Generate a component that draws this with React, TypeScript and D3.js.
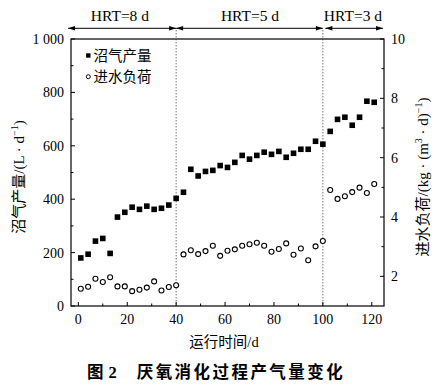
import React from 'react';
import * as d3 from 'd3';

const days = [1, 4, 7, 10, 13, 16, 19, 22, 25, 28, 31, 34, 37, 40, 43, 46, 49, 52, 55, 58, 61, 64, 67, 70, 73, 76, 79, 82, 85, 88, 91, 94, 97, 100, 103, 106, 109, 112, 115, 118, 121];
const biogas = [180, 194, 243, 253, 197, 333, 351, 370, 362, 374, 362, 366, 378, 403, 426, 512, 487, 504, 508, 526, 519, 538, 564, 550, 564, 576, 568, 579, 557, 572, 587, 587, 617, 606, 654, 699, 707, 677, 707, 767, 763];
const loading = [1.58, 1.65, 1.92, 1.81, 1.97, 1.66, 1.66, 1.50, 1.55, 1.62, 1.83, 1.52, 1.64, 1.70, 2.74, 2.88, 2.75, 2.85, 3.03, 2.69, 2.86, 2.91, 3.03, 3.08, 3.13, 3.03, 2.83, 2.92, 3.11, 2.73, 2.94, 2.54, 3.01, 3.19, 4.91, 4.61, 4.70, 4.84, 4.99, 4.81, 5.11];

const xTicks = [0, 20, 40, 60, 80, 100, 120];
const xMinor = [10, 30, 50, 70, 90, 110];
const leftTicks = [0, 200, 400, 600, 800, 1000];
const leftTickLabels = ['0', '200', '400', '600', '800', '1 000'];
const leftMinor = [100, 300, 500, 700, 900];
const rightTicks = [2, 4, 6, 8, 10];
const rightMinor = [3, 5, 7, 9];
const phaseBounds = [-4.2, 40, 100, 124.6];
const phaseLabels = ['HRT=8 d', 'HRT=5 d', 'HRT=3 d'];
const phaseLabelAt = [17, 70.2, 112.3];
const dividers = [40, 100];

const serif = '"Liberation Serif", "Times New Roman", "Noto Sans CJK SC", serif';

export default function App() {
  const L = 71, R = 384, T = 39, B = 306;
  const x = d3.scaleLinear().domain([-3, 125]).range([L, R]);
  const yL = d3.scaleLinear().domain([0, 1000]).range([B, T]);
  const yR = d3.scaleLinear().domain([1, 10]).range([B, T]);
  const arrowY = 28.3;
  const sq = 5.6;

  const arrowHead = (px: number, dir: number) => {
    const len = 7, hw = 2.2;
    return `M${px},${arrowY} L${px - dir * len},${arrowY - hw} L${px - dir * len},${arrowY + hw} Z`;
  };

  return (
    <svg width={445} height={386} style={{ position: 'absolute', left: 0, top: 0, background: '#fff' }} fontFamily={serif}>
      <rect x={0} y={0} width={445} height={386} fill="#fff" />
      {/* frame */}
      <rect x={L} y={T} width={R - L} height={B - T} fill="none" stroke="#000" strokeWidth={1.2} />
      {/* dividers */}
      {dividers.map((d) => (
        <line key={d} x1={x(d)} x2={x(d)} y1={arrowY + 2} y2={B} stroke="#333" strokeWidth={1} strokeDasharray="1 2" />
      ))}
      {/* HRT arrows */}
      {phaseLabels.map((lab, i) => {
        const x1 = x(phaseBounds[i]) + (i === 2 ? 2.5 : 0);
        const x2 = x(phaseBounds[i + 1]);
        return (
          <g key={lab}>
            <line x1={x1} x2={x2} y1={arrowY} y2={arrowY} stroke="#000" strokeWidth={1} />
            <path d={arrowHead(x1, -1)} fill="#000" />
            <path d={arrowHead(x2, 1)} fill="#000" />
            <text x={x(phaseLabelAt[i])} y={21} fontSize={15.5} textAnchor="middle">{lab}</text>
          </g>
        );
      })}
      {/* x ticks */}
      {xTicks.map((t) => (
        <g key={t}>
          <line x1={x(t)} x2={x(t)} y1={B} y2={B - 4} stroke="#000" strokeWidth={1} />
          <text x={x(t)} y={324} fontSize={14} textAnchor="middle">{t}</text>
        </g>
      ))}
      {xMinor.map((t) => (
        <line key={t} x1={x(t)} x2={x(t)} y1={B} y2={B - 2.5} stroke="#000" strokeWidth={1} />
      ))}
      {/* left ticks */}
      {leftTicks.map((t, i) => (
        <g key={t}>
          <line x1={L} x2={L + 4} y1={yL(t)} y2={yL(t)} stroke="#000" strokeWidth={1} />
          <text x={64} y={yL(t)} dy="0.35em" fontSize={14} textAnchor="end">{leftTickLabels[i]}</text>
        </g>
      ))}
      {leftMinor.map((t) => (
        <line key={t} x1={L} x2={L + 2.5} y1={yL(t)} y2={yL(t)} stroke="#000" strokeWidth={1} />
      ))}
      {/* right ticks */}
      {rightTicks.map((t) => (
        <g key={t}>
          <line x1={R} x2={R - 4} y1={yR(t)} y2={yR(t)} stroke="#000" strokeWidth={1} />
          <text x={391} y={yR(t)} dy="0.35em" fontSize={14} textAnchor="start">{t}</text>
        </g>
      ))}
      {rightMinor.map((t) => (
        <line key={t} x1={R} x2={R - 2.5} y1={yR(t)} y2={yR(t)} stroke="#000" strokeWidth={1} />
      ))}
      {/* biogas squares */}
      {days.map((d, i) => (
        <rect key={'s' + d} x={x(d) - sq / 2} y={yL(biogas[i]) - sq / 2} width={sq} height={sq} fill="#000" />
      ))}
      {/* loading circles */}
      {days.map((d, i) => (
        <circle key={'c' + d} cx={x(d)} cy={yR(loading[i])} r={2.5} fill="#fff" stroke="#000" strokeWidth={1.1} />
      ))}
      {/* legend */}
      <rect x={88.3 - 2.2} y={55.5 - 2.2} width={4.4} height={4.4} fill="#000" />
      <text x={93.5} y={55.5} dy="0.36em" fontSize={14.5}>沼气产量</text>
      <circle cx={88.3} cy={76.7} r={2} fill="#fff" stroke="#000" strokeWidth={1} />
      <text x={93.5} y={76.7} dy="0.36em" fontSize={14.5}>进水负荷</text>
      {/* axis titles */}
      <text transform="translate(24,177) rotate(-90)" fontSize={15} textAnchor="middle">
        沼气产量/(L · d<tspan fontSize={10} dy={-6}>−1</tspan><tspan dy={6}>)</tspan>
      </text>
      <text transform="translate(428,177) rotate(-90)" fontSize={15} textAnchor="middle">
        进水负荷/(kg · (m<tspan fontSize={10} dy={-6}>3</tspan><tspan dy={6}> · d)</tspan><tspan fontSize={10} dy={-6}>−1</tspan><tspan dy={6}>)</tspan>
      </text>
      <text x={224} y={347} fontSize={14.5} textAnchor="middle">运行时间/d</text>
      {/* caption */}
      <text x={87} y={378} fontSize={16.5} fontWeight="bold" fontFamily='"Noto Sans CJK SC", sans-serif'>图</text>
      <text x={108.5} y={378} fontSize={16.5} fontWeight="bold" fontFamily='"Liberation Serif", serif'>2</text>
      <text x={136.7} y={378} fontSize={16.5} fontWeight="bold" fontFamily='"Noto Sans CJK SC", sans-serif' textLength={206} lengthAdjust="spacing">厌氧消化过程产气量变化</text>
    </svg>
  );
}
